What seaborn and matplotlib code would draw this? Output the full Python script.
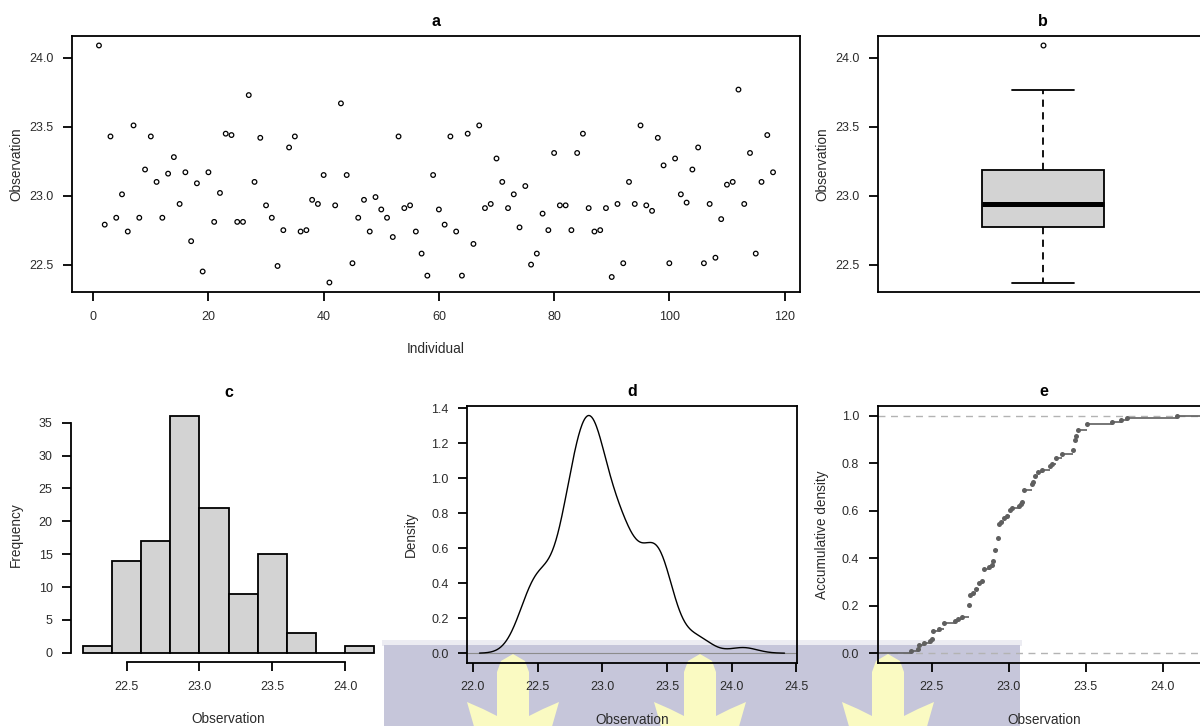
import numpy as np
import pandas as pd
import matplotlib
matplotlib.use("Agg")
import matplotlib.pyplot as plt
import matplotlib.transforms as mtransforms
from matplotlib.patches import Rectangle, Polygon
import seaborn as sns

# ---- data -----------------------------------------------------------------
observation = [
    24.09, 22.79, 23.43, 22.84, 23.01, 22.74, 23.51, 22.84, 23.19, 23.43,
    23.10, 22.84, 23.16, 23.28, 22.94, 23.17, 22.67, 23.09, 22.45, 23.17,
    22.81, 23.02, 23.45, 23.44, 22.81, 22.81, 23.73, 23.10, 23.42, 22.93,
    22.84, 22.49, 22.75, 23.35, 23.43, 22.74, 22.75, 22.97, 22.94, 23.15,
    22.37, 22.93, 23.67, 23.15, 22.51, 22.84, 22.97, 22.74, 22.99, 22.90,
    22.84, 22.70, 23.43, 22.91, 22.93, 22.74, 22.58, 22.42, 23.15, 22.90,
    22.79, 23.43, 22.74, 22.42, 23.45, 22.65, 23.51, 22.91, 22.94, 23.27,
    23.10, 22.91, 23.01, 22.77, 23.07, 22.50, 22.58, 22.87, 22.75, 23.31,
    22.93, 22.93, 22.75, 23.31, 23.45, 22.91, 22.74, 22.75, 22.91, 22.41,
    22.94, 22.51, 23.10, 22.94, 23.51, 22.93, 22.89, 23.42, 23.22, 22.51,
    23.27, 23.01, 22.95, 23.19, 23.35, 22.51, 22.94, 22.55, 22.83, 23.08,
    23.10, 23.77, 22.94, 23.31, 22.58, 23.10, 23.44, 23.17,
]
individual = np.arange(1, len(observation) + 1)

hist_breaks = [22.2, 22.4, 22.6, 22.8, 23.0, 23.2, 23.4, 23.6, 23.8, 24.0, 24.2]

obs_ticks = [22.5, 23.0, 23.5, 24.0]
obs_ticklabels = ["22.5", "23.0", "23.5", "24.0"]
ind_ticks = [0, 20, 40, 60, 80, 100, 120]
freq_ticks = [0, 5, 10, 15, 20, 25, 30, 35]
dens_xticks = [22.0, 22.5, 23.0, 23.5, 24.0, 24.5]
dens_xticklabels = ["22.0", "22.5", "23.0", "23.5", "24.0", "24.5"]
dens_yticks = [0.0, 0.2, 0.4, 0.6, 0.8, 1.0, 1.2, 1.4]
cdf_yticks = [0.0, 0.2, 0.4, 0.6, 0.8, 1.0]

# ---- style ----------------------------------------------------------------
sns.set_style("ticks")
TXT = "#2b2b2b"
plt.rcParams.update({
    "axes.facecolor": "none",
    "figure.facecolor": "white",
    "axes.edgecolor": "black",
    "axes.linewidth": 1.3,
    "xtick.major.size": 6.5, "ytick.major.size": 6.5,
    "xtick.major.width": 1.3, "ytick.major.width": 1.3,
    "xtick.major.pad": 7, "ytick.major.pad": 7,
    "xtick.labelsize": 9, "ytick.labelsize": 9,
    "xtick.color": "black", "ytick.color": "black",
    "xtick.labelcolor": TXT, "ytick.labelcolor": TXT,
    "axes.labelcolor": TXT,
})
plt.rcParams["font.family"] = ["Liberation Sans", "DejaVu Sans"]

W, H = 1200, 726
fig = plt.figure(figsize=(W / 100, H / 100), dpi=100)


def panel(l, t, r, b):
    return fig.add_axes([l / W, 1 - b / H, (r - l) / W, (b - t) / H])


def rpad(lo, hi, f=0.04):
    d = f * (hi - lo)
    return lo - d, hi + d


def decorate(ax, title, xlabel, ylabel):
    ax.set_title(title, fontsize=11.5, fontweight="bold", color="black", pad=7.2)
    ax.set_xlabel(xlabel, fontsize=9.8)
    ax.set_ylabel(ylabel, fontsize=9.8)
    ax.xaxis.set_label_coords(
        0.5, 0, transform=mtransforms.offset_copy(ax.transAxes, fig=fig, y=-57, units="dots"))
    ax.xaxis.label.set_va("center")
    ax.yaxis.set_label_coords(
        0, 0.5, transform=mtransforms.offset_copy(ax.transAxes, fig=fig, x=-56, units="dots"))
    ax.yaxis.label.set_va("center")


obs = np.asarray(observation)
obs_lim = rpad(obs.min(), obs.max())

# ---- pale banner with emblem shapes along the bottom strip ---------------
px = mtransforms.Affine2D().scale(1 / W, -1 / H).translate(0, 1) + fig.transFigure
fig.add_artist(Rectangle((382, 640), 640, 6, transform=px, facecolor="#ececf2",
                         edgecolor="none", zorder=-3))
fig.add_artist(Rectangle((384, 645), 636, 90, transform=px, facecolor="#c6c6da",
                         edgecolor="none", zorder=-3))
crown = np.array([(-38, 730), (-46, 702), (-30, 709), (-16, 716), (-16, 672),
                  (-12, 661), (0, 654), (12, 661), (16, 672), (16, 716),
                  (30, 709), (46, 702), (38, 730)], dtype=float)
for cx in (513, 700, 888):
    fig.add_artist(Polygon(crown + [cx, 0], closed=True, transform=px,
                           facecolor="#fafac2", edgecolor="none", zorder=-2))

# ---- a: observations by individual ---------------------------------------
ax_a = panel(72, 36, 800, 292)
df = pd.DataFrame({"Individual": individual, "Observation": observation})
sns.scatterplot(data=df, x="Individual", y="Observation", ax=ax_a, marker="o",
                s=11, facecolor="none", edgecolor="black", linewidth=0.9, legend=False)
ax_a.set_xlim(*rpad(individual.min(), individual.max()))
ax_a.set_ylim(*obs_lim)
ax_a.set_xticks(ind_ticks)
ax_a.set_yticks(obs_ticks, obs_ticklabels)
decorate(ax_a, "a", "Individual", "Observation")

# ---- b: box plot ----------------------------------------------------------
ax_b = panel(878, 36, 1208, 292)
sns.boxplot(y=observation, ax=ax_b, width=0.4, color="lightgray", linecolor="black",
            linewidth=1.3, whis=1.5, saturation=1,
            whiskerprops=dict(linestyle=(0, (4, 3))),
            medianprops=dict(linewidth=3.6),
            flierprops=dict(marker="o", markerfacecolor="none",
                            markeredgecolor="black", markersize=3.4,
                            markeredgewidth=0.9))
ax_b.set_xlim(-0.54, 0.54)
ax_b.set_ylim(*obs_lim)
ax_b.set_xticks([])
ax_b.set_yticks(obs_ticks, obs_ticklabels)
decorate(ax_b, "b", "", "Observation")

# ---- c: histogram ---------------------------------------------------------
ax_c = panel(71.4, 406.7, 385.8, 662.2)
sns.histplot(x=observation, bins=hist_breaks, ax=ax_c, color="lightgray",
             edgecolor="black", linewidth=1.3, alpha=1)
counts = [p.get_height() for p in ax_c.patches]
ax_c.set_xlim(*rpad(hist_breaks[0], hist_breaks[-1]))
ax_c.set_ylim(*rpad(0, max(counts)))
ax_c.set_xticks(obs_ticks, obs_ticklabels)
ax_c.set_yticks(freq_ticks)
for side in ("top", "right"):
    ax_c.spines[side].set_visible(False)
ax_c.spines["left"].set_bounds(freq_ticks[0], freq_ticks[-1])
ax_c.spines["bottom"].set_bounds(obs_ticks[0], obs_ticks[-1])
decorate(ax_c, "c", "Observation", "Frequency")

# ---- d: kernel density ----------------------------------------------------
ax_d = panel(467.3, 406, 796.7, 662.7)
sd = obs.std(ddof=1)
iqr = np.subtract(*np.percentile(obs, [75, 25]))
bw = 0.9 * min(sd, iqr / 1.34) * len(obs) ** -0.2
sns.kdeplot(x=observation, ax=ax_d, bw_method=bw / sd, cut=3, gridsize=512,
            color="black", linewidth=1.0)
kx, ky = ax_d.lines[0].get_data()
ax_d.axhline(0, color="#8c8c8c", linewidth=0.8, zorder=1)
ax_d.set_xlim(*rpad(kx.min(), kx.max()))
ax_d.set_ylim(*rpad(0, ky.max()))
ax_d.set_xticks(dens_xticks, dens_xticklabels)
ax_d.set_yticks(dens_yticks, [f"{v:.1f}" for v in dens_yticks])
decorate(ax_d, "d", "Observation", "Density")

# ---- e: empirical cumulative distribution --------------------------------
ax_e = panel(878, 406, 1210, 662.7)
srt = np.sort(obs)
knots = np.unique(srt)
fn = np.searchsorted(srt, knots, side="right") / len(srt)
dr = max(0.08 * (knots[-1] - knots[0]), np.median(np.diff(knots)))
x0, x1 = knots[0] - dr, knots[-1] + dr
step_col = "#5f5f5f"
for yv in (0, 1):
    ax_e.axhline(yv, color="#b3b3b3", linewidth=1.0, linestyle=(0, (5, 4)), zorder=1)
ax_e.hlines(np.r_[0, fn], np.r_[x0 - dr, knots], np.r_[knots, x1 + dr],
            color=step_col, linewidth=1.2, zorder=2)
sns.scatterplot(x=knots, y=fn, ax=ax_e, color=step_col, s=13, linewidth=0,
                zorder=3, legend=False)
ax_e.set_xlim(*rpad(x0, x1))
ax_e.set_ylim(*rpad(0, 1))
ax_e.set_xticks(obs_ticks, obs_ticklabels)
ax_e.set_yticks(cdf_yticks, [f"{v:.1f}" for v in cdf_yticks])
decorate(ax_e, "e", "Observation", "Accumulative density")

fig.savefig("out.png", dpi=100)
